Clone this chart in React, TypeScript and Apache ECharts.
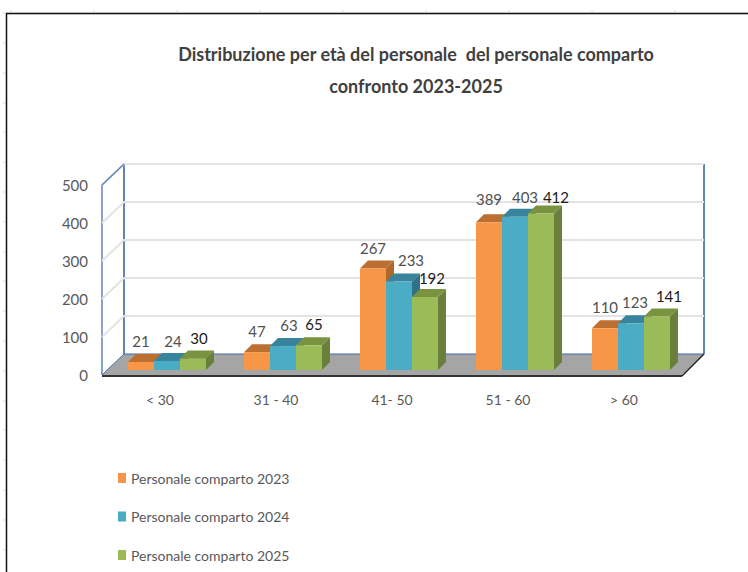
import React, { useEffect, useRef } from "react";
import * as echarts from "echarts";

const categories = ["< 30", "31 - 40", "41- 50", "51 - 60", "> 60"];
const seriesNames = ["Personale comparto 2023", "Personale comparto 2024", "Personale comparto 2025"];
const values2023 = [21, 47, 267, 389, 110];
const values2024 = [24, 63, 233, 403, 123];
const values2025 = [30, 65, 192, 412, 141];
const yTicks = [0, 100, 200, 300, 400, 500];
const titleText = "Distribuzione per età del personale  del personale comparto\nconfronto 2023-2025";

const frontColors = ["#F79646", "#4BACC6", "#9BBB59"];
const topColors = ["#BC6F31", "#37849C", "#7A933F"];
const sideColors = ["#B0672B", "#2F7288", "#6A7F3A"];
const labelColors = ["#505050", "#505050", "#1a1a1a"];
const labelNudgeX = [
  [0, 0, 0, 0, 0],
  [6, 6, 12, 10, 4],
  [6, 5, 7, 15, 12],
];
const labelNudgeY = [
  [0, 0, 0, -2, 0],
  [1, 0, 0, 1, 0],
  [0, 0, 2, 5, 1],
];

const DEPTH_X = 22;
const DEPTH_Y = -21;
const BAR_DEPTH = 8;
const BASE_DX = 7;
const BASE_DY = -5;

const FONT = "Lato";

const wall = (params: any, api: any) => {
  const c = params.coordSys;
  const l = c.x, r = c.x + c.width;
  const y = api.coord([0, api.value(1)])[1];
  const children: any[] = [];
  const v = api.value(1);
  if (v === 0) {
    children.push({
      type: "polygon",
      shape: { points: [[l, y], [l + DEPTH_X, y + DEPTH_Y], [r + DEPTH_X, y + DEPTH_Y], [r, y]] },
      style: { fill: "#A5A5A5" },
    });
    children.push({ type: "line", shape: { x1: l, y1: y + 1, x2: r, y2: y + 1 }, style: { stroke: "#333", lineWidth: 2 } });
    children.push({ type: "line", shape: { x1: l + DEPTH_X, y1: y + DEPTH_Y, x2: r + DEPTH_X, y2: y + DEPTH_Y }, style: { stroke: "#3F6BA5", lineWidth: 1 } });
    children.push({ type: "line", shape: { x1: l, y1: y, x2: l + DEPTH_X, y2: y + DEPTH_Y }, style: { stroke: "#3F6BA5", lineWidth: 1 } });
    children.push({ type: "line", shape: { x1: r, y1: y + 1, x2: r + DEPTH_X, y2: y + DEPTH_Y }, style: { stroke: "#222", lineWidth: 1.5 } });
    children.push({ type: "line", shape: { x1: l + DEPTH_X, y1: c.y + DEPTH_Y, x2: l + DEPTH_X, y2: y + DEPTH_Y }, style: { stroke: "#2F5C9A", lineWidth: 1.5 } });
    children.push({ type: "line", shape: { x1: l, y1: c.y, x2: l, y2: y }, style: { stroke: "#5F86B8", lineWidth: 1.5 } });
    children.push({ type: "line", shape: { x1: r + DEPTH_X, y1: c.y + DEPTH_Y, x2: r + DEPTH_X, y2: y + DEPTH_Y }, style: { stroke: "#2F5C9A", lineWidth: 1.5 } });
  } else {
    const top = v === yTicks[yTicks.length - 1];
    children.push({
      type: "polyline",
      shape: { points: [[l, y], [l + DEPTH_X, y + DEPTH_Y], [r + DEPTH_X, y + DEPTH_Y]] },
      style: { stroke: "#E3E3E3", lineWidth: 2, fill: "none" },
    });
    if (top) {
      children.push({ type: "line", shape: { x1: l, y1: y, x2: l + DEPTH_X, y2: y + DEPTH_Y }, style: { stroke: "#5F86B8", lineWidth: 1.5 } });
    }
  }
  return { type: "group", children };
};

const barRenderer = (s: number) => (params: any, api: any) => {
  const i = api.value(0);
  const v = api.value(1);
  const [cx, ty] = api.coord([i, v]);
  const by = api.coord([i, 0])[1] + BASE_DY;
  const band = api.size([1, 0])[0];
  const w = band * 0.224;
  const x = cx + BASE_DX - (w * 3) / 2 + s * w;
  const top = ty + BASE_DY;
  const d = BAR_DEPTH;
  return {
    type: "group",
    children: [
      { type: "polygon", shape: { points: [[x + w, top], [x + w + d, top - d], [x + w + d, by - d], [x + w, by]] }, style: { fill: sideColors[s] } },
      { type: "polygon", shape: { points: [[x, top], [x + d, top - d], [x + w + d, top - d], [x + w, top]] }, style: { fill: topColors[s] } },
      { type: "rect", shape: { x, y: top, width: w, height: by - top }, style: { fill: frontColors[s] } },
      {
        type: "text",
        z2: 100,
        style: {
          x: x + w / 2 + labelNudgeX[s][i],
          y: top - 21 + labelNudgeY[s][i],
          text: String(v),
          fill: labelColors[s],
          font: `15px ${FONT}`,
          align: "center",
          verticalAlign: "middle",
        },
      },
    ],
  };
};

const topTickXs = [11, 94, 177, 260, 343, 426, 509, 592, 675];
const leftTickYs = [13, 43, 73, 103, 132, 162, 192, 222, 252, 281, 311, 341, 371, 401, 430, 460, 490, 520, 550];

const option: any = {
  animation: false,
  backgroundColor: "#fff",
  title: {
    text: titleText,
    left: 411,
    top: 33,
    textAlign: "center",
    textStyle: { fontFamily: FONT, fontSize: 18, fontWeight: "bold", color: "#404040", lineHeight: 32 },
  },
  grid: { left: 102, width: 580, top: 185, height: 190 },
  legend: {
    orient: "vertical",
    left: 118,
    top: 469,
    height: 103,
    padding: 0,
    itemWidth: 8,
    itemHeight: 10,
    itemGap: 20.5,
    itemStyle: { borderWidth: 0 },
    textStyle: { fontFamily: FONT, fontSize: 14, color: "#595959", lineHeight: 18 },
    icon: "rect",
    data: seriesNames,
  },
  xAxis: {
    type: "category",
    data: categories,
    axisLine: { show: false },
    axisTick: { show: false },
    axisLabel: { margin: 17, color: "#595959", fontFamily: FONT, fontSize: 14 },
  },
  yAxis: {
    type: "value",
    min: 0,
    max: 500,
    interval: 100,
    splitLine: { show: false },
    axisLine: { show: false },
    axisTick: { show: false },
    axisLabel: { margin: 14, color: "#595959", fontFamily: FONT, fontSize: 15 },
  },
  series: [
    {
      type: "custom",
      name: "walls",
      z: 1,
      clip: false,
      silent: true,
      renderItem: wall,
      encode: { x: 0, y: 1 },
      data: yTicks.map((t) => [0, t]),
    },
    ...[values2023, values2024, values2025].map((vals, s) => ({
      type: "custom",
      name: seriesNames[s],
      z: 2 + s,
      clip: false,
      itemStyle: { color: frontColors[s] },
      renderItem: barRenderer(s),
      encode: { x: 0, y: 1 },
      data: vals.map((v, i) => [i, v]),
    })),
  ],
  graphic: [
    ...topTickXs.map((x) => ({ type: "line", shape: { x1: x, y1: 10, x2: x, y2: 13 }, style: { stroke: "#D8D8D8", lineWidth: 1 } })),
    ...leftTickYs.map((y) => ({ type: "line", shape: { x1: 3, y1: y, x2: 6, y2: y }, style: { stroke: "#DEDEDE", lineWidth: 1 } })),
    { type: "line", shape: { x1: 6, y1: 13.5, x2: 748, y2: 13.5 }, style: { stroke: "#BBBBBB", lineWidth: 3 } },
    { type: "line", shape: { x1: 6, y1: 13.5, x2: 748, y2: 13.5 }, style: { stroke: "#111", lineWidth: 1 } },
    { type: "line", shape: { x1: 6.5, y1: 13, x2: 6.5, y2: 572 }, style: { stroke: "#111", lineWidth: 1.5 } },
  ],
};

export default function App() {
  const ref = useRef<HTMLDivElement>(null);
  useEffect(() => {
    const chart = echarts.init(ref.current!, undefined, { renderer: "svg" });
    chart.setOption(option);
    return () => chart.dispose();
  }, []);
  return <div ref={ref} style={{ position: "absolute", left: 0, top: 0, width: 748, height: 572 }} />;
}
